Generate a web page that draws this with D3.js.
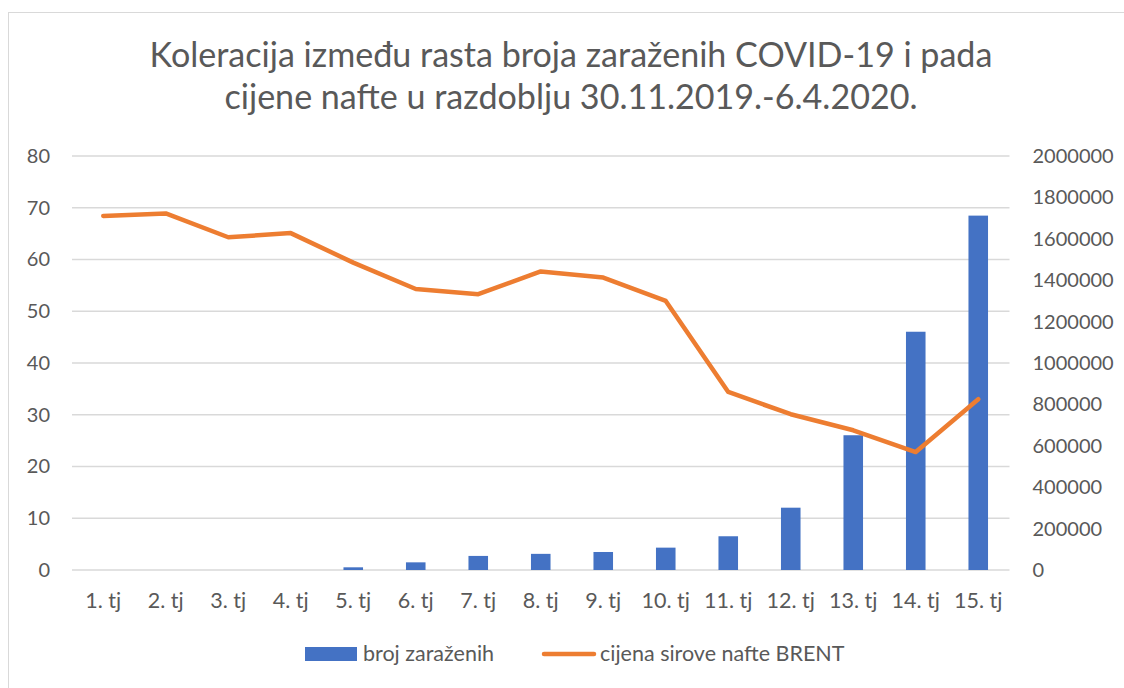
<!DOCTYPE html>
<html>
<head>
<meta charset="utf-8">
<script src="https://cdn.jsdelivr.net/npm/d3@7"></script>
<style>
  html, body { margin: 0; padding: 0; background: #fff; }
  svg { display: block; }
  text { font-family: Lato, "Open Sans", sans-serif; fill: #595959; }
</style>
</head>
<body>
<svg id="chart" width="1124" height="688"></svg>
<script>
// ---- data ----
const categories = ["1. tj","2. tj","3. tj","4. tj","5. tj","6. tj","7. tj","8. tj","9. tj","10. tj","11. tj","12. tj","13. tj","14. tj","15. tj"];
const cases = [0, 0, 0, 0, 13000, 37000, 68000, 78000, 87000, 108000, 163000, 301000, 651000, 1151000, 1712000];
const oilPrice = [68.4, 68.9, 64.3, 65.1, 59.4, 54.3, 53.3, 57.7, 56.5, 52.0, 34.4, 30.1, 27.0, 22.8, 33.0];
const leftTicks = [0, 10, 20, 30, 40, 50, 60, 70, 80];
const rightTicks = [0, 200000, 400000, 600000, 800000, 1000000, 1200000, 1400000, 1600000, 1800000, 2000000];
const titleLines = ["Koleracija između rasta broja zaraženih COVID-19 i pada", "cijene nafte u razdoblju 30.11.2019.-6.4.2020."];
const seriesNames = ["broj zaraženih", "cijena sirove nafte BRENT"];

const m = { left: 72, right: 1009.5, top: 156, bottom: 570 };
const svg = d3.select("#chart");

// chart area border
svg.append("rect").attr("x", 8.5).attr("y", 12.5).attr("width", 1130).attr("height", 700)
  .attr("fill", "#fff").attr("stroke", "#d9d9d9").attr("stroke-width", 1);

const x = d3.scaleBand().domain(categories).range([m.left, m.right]).paddingInner(0.687).paddingOuter(0.3435);
const xc = d3.scaleBand().domain(categories).range([m.left, m.right]);
const yL = d3.scaleLinear().domain([0, 80]).range([m.bottom, m.top]);
const yR = d3.scaleLinear().domain([0, 2000000]).range([m.bottom, m.top]);

// gridlines
svg.append("g").selectAll("line").data(leftTicks).join("line")
  .attr("x1", m.left).attr("x2", m.right)
  .attr("y1", d => yL(d)).attr("y2", d => yL(d))
  .attr("stroke", "#d9d9d9").attr("stroke-width", 1.3);

// left axis
const axL = d3.axisLeft(yL).tickValues(leftTicks).tickSize(0).tickPadding(22);
const gL = svg.append("g").attr("transform", `translate(${m.left},0)`).call(axL);
gL.select(".domain").remove();
gL.selectAll("text").attr("font-size", 20).attr("fill", "#595959").attr("font-family", "Lato");

// right axis
const axR = d3.axisRight(yR).tickValues(rightTicks).tickSize(0).tickPadding(23).tickFormat(d3.format("d"));
const gR = svg.append("g").attr("transform", `translate(${m.right},0)`).call(axR);
gR.select(".domain").remove();
gR.selectAll("text").attr("font-size", 20).attr("fill", "#595959").attr("font-family", "Lato");

// bottom axis
const axB = d3.axisBottom(xc).tickSize(0).tickPadding(23);
const gB = svg.append("g").attr("transform", `translate(0,${m.bottom})`).call(axB);
gB.select(".domain").remove();
gB.selectAll("text").attr("font-size", 21.5).attr("fill", "#595959").attr("font-family", "Lato");

// bars
svg.append("g").selectAll("rect").data(cases).join("rect")
  .attr("x", (d, i) => x(categories[i]))
  .attr("width", x.bandwidth())
  .attr("y", d => yR(d))
  .attr("height", d => m.bottom - yR(d))
  .attr("fill", "#4472c4");

// line
const line = d3.line().x((d, i) => xc(categories[i]) + xc.bandwidth() / 2).y(d => yL(d));
svg.append("path").datum(oilPrice).attr("d", line)
  .attr("fill", "none").attr("stroke", "#ed7d31").attr("stroke-width", 4.5)
  .attr("stroke-linejoin", "round").attr("stroke-linecap", "round");

// title
const title = svg.append("g");
const t1 = title.append("text").attr("x", 571).attr("y", 67).attr("text-anchor", "middle")
  .attr("font-size", 30).text(titleLines[0]);
const w1 = t1.node().getComputedTextLength();
const fs = 30 * 843 / w1;
t1.attr("font-size", fs);
title.append("text").attr("x", 571).attr("y", 109).attr("text-anchor", "middle")
  .attr("font-size", fs).text(titleLines[1]);

// legend
const lg = svg.append("g");
lg.append("rect").attr("x", 305).attr("y", 647).attr("width", 52).attr("height", 14).attr("fill", "#4472c4");
lg.append("text").attr("x", 363).attr("y", 661).attr("font-size", 21.5).text(seriesNames[0]);
lg.append("line").attr("x1", 544).attr("x2", 594).attr("y1", 654).attr("y2", 654)
  .attr("stroke", "#ed7d31").attr("stroke-width", 4.5).attr("stroke-linecap", "round");
lg.append("text").attr("x", 600).attr("y", 661).attr("font-size", 21.5).text(seriesNames[1]);
</script>
</body>
</html>
